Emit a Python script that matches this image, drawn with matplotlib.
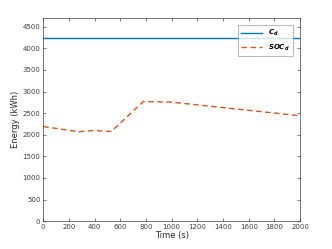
import matplotlib
matplotlib.use("Agg")
import matplotlib.pyplot as plt

# data
t_cd = [0, 2000]
c_d = [4250, 4250]

t_soc = [0, 280, 400, 530, 780, 1000, 2000]
soc_d = [2190, 2070, 2100, 2075, 2770, 2755, 2440]

x_ticks = list(range(0, 2001, 200))
y_ticks = list(range(0, 4501, 500))
labels = [r'$\mathbf{C_d}$', r'$\mathbf{SOC_d}$']

plt.rcParams['font.family'] = ['DejaVu Sans']
plt.rcParams['mathtext.fontset'] = 'custom'
plt.rcParams['mathtext.bf'] = 'DejaVu Sans:italic:bold'
plt.rcParams['mathtext.it'] = 'DejaVu Sans:italic:bold'
plt.rcParams['mathtext.rm'] = 'DejaVu Sans:italic:bold'

fig = plt.figure(figsize=(3.32, 2.49), dpi=100)
ax = fig.add_axes([0.13, 0.112, 0.774, 0.815])

ax.plot(t_cd, c_d, color='#0072BD', lw=1.0, label=labels[0])
ax.plot(t_soc, soc_d, color='#D95319', lw=1.0, ls=(0, (4, 2.5)), label=labels[1])

ax.set_xlim(0, 2000)
ax.set_ylim(0, 4700)
ax.set_xticks(x_ticks)
ax.set_yticks(y_ticks)
ax.tick_params(direction='in', length=2, width=0.5, labelsize=5, colors='0.25',
               top=True, right=True, pad=2)
for s in ax.spines.values():
    s.set_linewidth(0.5)
    s.set_color('0.25')

ax.set_xlabel('Time (s)', fontsize=6, color='0.15', labelpad=1)
ax.set_ylabel('Energy (kWh)', fontsize=6, color='0.15', labelpad=2)

leg = ax.legend(loc='upper right', fontsize=5, frameon=True, fancybox=False,
                edgecolor='0.5', handlelength=3.0, handletextpad=0.8, borderpad=0.5,
                labelspacing=0.6, bbox_to_anchor=(0.985, 0.985))
leg.get_frame().set_linewidth(0.5)

fig.savefig('out.png', dpi=100)
